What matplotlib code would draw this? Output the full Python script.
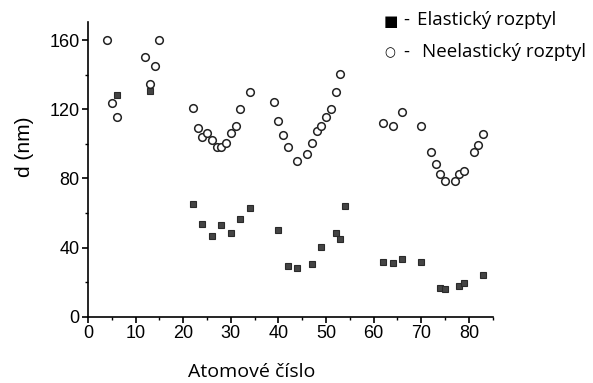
import numpy as np
import matplotlib
matplotlib.use("Agg")
import matplotlib.pyplot as plt
from matplotlib.ticker import MultipleLocator

# --- data ---
# inelastic scattering (open circles)
z_neel = [4, 5, 6, 12, 13, 14, 15, 22, 23, 24, 25, 26, 27, 28, 29, 30, 31, 32, 34,
          39, 40, 41, 42, 44, 46, 47, 48, 49, 50, 51, 52, 53,
          62, 64, 66, 70, 72, 73, 74, 75, 77, 78, 79, 81, 82, 83]
d_neel = [160, 123.4, 115.3, 150.4, 134.4, 145.2, 160, 120.5, 109.3, 104.1, 106.4,
          102.4, 98.2, 98.1, 100.5, 106.4, 110.3, 120.3, 130.1,
          124.4, 113.2, 105.3, 98.3, 90.2, 94.1, 100.5, 107.2, 110.3, 115.3,
          120.3, 130.1, 140.2,
          112.2, 110.3, 118.2, 110.3, 95.4, 88.3, 82.3, 78.5, 78.5, 82.3, 84.3,
          95.4, 99.3, 105.5]

# elastic scattering (filled squares)
z_el = [6, 13, 22, 24, 26, 28, 30, 32, 34, 40, 42, 44, 47, 49, 52, 53, 54,
        62, 64, 66, 70, 74, 75, 78, 79, 83]
d_el = [128.2, 130.5, 65.2, 53.8, 46.8, 53.2, 48.2, 56.3, 63.0, 50.1, 29.1, 28.2,
        30.3, 40.1, 48.2, 44.8, 64.0,
        31.5, 31.2, 33.6, 31.5, 16.6, 16.0, 17.9, 19.7, 24.3]

W, H = 593, 383
fig = plt.figure(figsize=(W / 100, H / 100), dpi=100)
ax = fig.add_axes([88 / W, 66.3 / H, 404.7 / W, 294.7 / H])

ax.plot(z_el, d_el, ls='none', marker='s', ms=5, mfc='#444444', mec='#2a2a2a', mew=0.8)
ax.plot(z_neel, d_neel, ls='none', marker='o', ms=5.5, mfc='white', mec='#222222', mew=1.1)

ax.set_xlim(0, 85)
ax.set_ylim(0, 170.5)
ax.xaxis.set_major_locator(MultipleLocator(10))
ax.xaxis.set_minor_locator(MultipleLocator(5))
ax.yaxis.set_major_locator(MultipleLocator(40))
ax.yaxis.set_minor_locator(MultipleLocator(20))
for s in ['top', 'right']:
    ax.spines[s].set_visible(False)
for s in ['left', 'bottom']:
    ax.spines[s].set_linewidth(1.2)
ax.tick_params(which='major', direction='out', length=4, width=1.2,
               labelsize=13, pad=2)
ax.tick_params(which='minor', direction='out', length=2.5, width=1.0)
for lab in ax.get_xticklabels() + ax.get_yticklabels():
    lab.set_fontfamily('Liberation Sans')

# axis labels placed like in the reference
fig.text(24 / W, 1 - 147 / H, 'd (nm)', rotation=90, ha='center', va='center',
         fontsize=15, family='Liberation Sans')
fig.text(252 / W, 1 - 372 / H, 'Atomové číslo', ha='center', va='center',
         fontsize=14, family='Open Sans')

# legend written as text like the original
leg_font = ['Open Sans', 'DejaVu Sans']
fig.text(384 / W, 1 - 21 / H, '■', ha='left', va='center', fontsize=11, family='DejaVu Sans')
fig.text(403 / W, 1 - 20 / H, '-', ha='left', va='center', fontsize=13.5, family=leg_font)
fig.text(417 / W, 1 - 20 / H, 'Elastický rozptyl', ha='left', va='center',
         fontsize=13.5, family=leg_font)
fig.text(384 / W, 1 - 53 / H, '○', ha='left', va='center', fontsize=9, family='DejaVu Sans')
fig.text(403 / W, 1 - 52 / H, '-', ha='left', va='center', fontsize=13.5, family=leg_font)
fig.text(422 / W, 1 - 52 / H, 'Neelastický rozptyl', ha='left', va='center',
         fontsize=13.5, family=leg_font)

fig.savefig('out.png', dpi=100)
